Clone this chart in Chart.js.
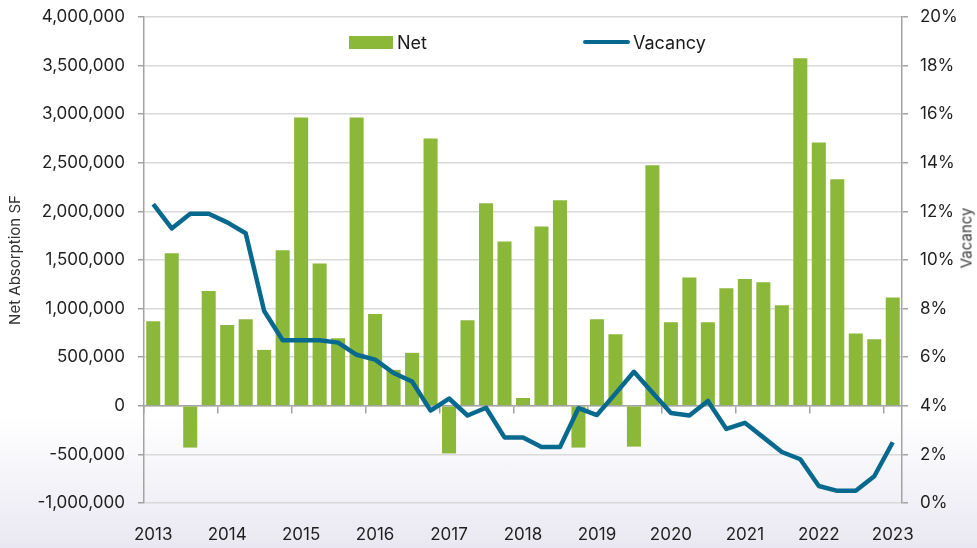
<!DOCTYPE html>
<html>

<head>
    <title>Net Absorption and Vacancy</title>
    <script src="https://cdn.jsdelivr.net/npm/chart.js"></script>
    <style>
        html, body {
            margin: 0;
            padding: 0;
        }

        body {
            width: 977px;
            height: 548px;
            overflow: hidden;
            font-family: Inter, "Noto Sans", sans-serif;
            background: linear-gradient(to bottom, #ffffff 0px, #ffffff 415px, #e9e8f2 548px);
        }

        .chart-container {
            position: relative;
            width: 977px;
            height: 548px;
        }

        /* legend sits inside the plot area, like the original */
        .legend {
            position: absolute;
            top: 30px;
            font-size: 18px;
            color: #1a1a1a;
            display: flex;
            align-items: center;
            height: 24px;
        }

        .legend .box {
            display: inline-block;
            width: 44px;
            height: 13px;
            background: #8cb83a;
            margin-right: 4px;
        }

        .legend .line {
            display: inline-block;
            width: 47px;
            height: 4px;
            border-radius: 2px;
            background: #08698f;
            margin-right: 3px;
        }

        /* right axis title reads bottom-to-top */
        #rightTitle {
            position: absolute;
            left: 966px;
            top: 238px;
            transform: translate(-50%, -50%) rotate(-90deg);
            font-size: 15px;
            color: #3a3a3a;
            white-space: nowrap;
        }
    </style>
</head>

<body>
    <div class="chart-container">
        <canvas id="absorptionChart"></canvas>
        <div class="legend" style="left: 349px;"><span class="box"></span>Net</div>
        <div class="legend" style="left: 583px;"><span class="line"></span>Vacancy</div>
        <div id="rightTitle">Vacancy</div>
    </div>

    <script>
        // quarters, 2013 Q1 .. 2023 Q1
        const quarters = [
            "2013 Q1", "2013 Q2", "2013 Q3", "2013 Q4",
            "2014 Q1", "2014 Q2", "2014 Q3", "2014 Q4",
            "2015 Q1", "2015 Q2", "2015 Q3", "2015 Q4",
            "2016 Q1", "2016 Q2", "2016 Q3", "2016 Q4",
            "2017 Q1", "2017 Q2", "2017 Q3", "2017 Q4",
            "2018 Q1", "2018 Q2", "2018 Q3", "2018 Q4",
            "2019 Q1", "2019 Q2", "2019 Q3", "2019 Q4",
            "2020 Q1", "2020 Q2", "2020 Q3", "2020 Q4",
            "2021 Q1", "2021 Q2", "2021 Q3", "2021 Q4",
            "2022 Q1", "2022 Q2", "2022 Q3", "2022 Q4",
            "2023 Q1"
        ];

        // net absorption, SF
        const netAbsorption = [
            870000, 1570000, -430000, 1180000,
            830000, 890000, 575000, 1600000,
            2965000, 1465000, 695000, 2965000,
            945000, 370000, 545000, 2750000,
            -490000, 880000, 2085000, 1690000,
            80000, 1845000, 2115000, -430000,
            890000, 735000, -420000, 2475000,
            860000, 1320000, 860000, 1210000,
            1305000, 1270000, 1035000, 3575000,
            2710000, 2330000, 745000, 685000,
            1115000
        ];

        // vacancy rate, %
        const vacancy = [
            12.3, 11.3, 11.9, 11.9,
            11.55, 11.1, 7.9, 6.7,
            6.7, 6.7, 6.6, 6.1,
            5.9, 5.35, 5.0, 3.8,
            4.3, 3.6, 3.92, 2.7,
            2.7, 2.3, 2.3, 3.9,
            3.62, 4.5, 5.4, 4.55,
            3.7, 3.6, 4.2, 3.05,
            3.3, 2.7, 2.1, 1.8,
            0.7, 0.5, 0.5, 1.1,
            2.5
        ];

        const leftTicks = { min: -1000000, max: 4000000, step: 500000 };
        const rightTicks = { min: 0, max: 20, step: 2 };

        const axisGrey = "#a3a3a3";
        const gridGrey = "#d9d9d9";
        const tickFont = { family: "Inter", size: 17 };
        const textColor = "#1f1f1f";

        // year label only on the first quarter
        function yearLabel(index) {
            return index % 4 === 0 ? quarters[index].slice(0, 4) : "";
        }

        // fixed axis sizes so the plot lands where the original's does
        function fixWidth(w) {
            return (scale) => {
                scale.width = w;
                scale.paddingTop = 0;
                scale.paddingBottom = 0;
            };
        }

        const ctx = document.getElementById("absorptionChart").getContext("2d");

        new Chart(ctx, {
            type: "bar",
            data: {
                labels: quarters,
                datasets: [
                    {
                        type: "line",
                        label: "Vacancy",
                        data: vacancy,
                        yAxisID: "yR",
                        xAxisID: "x",
                        borderColor: "#08698f",
                        borderWidth: 4.5,
                        borderJoinStyle: "round",
                        pointRadius: 0,
                        tension: 0,
                        fill: false,
                        order: 0
                    },
                    {
                        label: "Net",
                        data: netAbsorption,
                        yAxisID: "y",
                        xAxisID: "x",
                        backgroundColor: "#8cb83a",
                        barPercentage: 0.76,
                        categoryPercentage: 1.0,
                        order: 1
                    }
                ]
            },
            options: {
                responsive: true,
                maintainAspectRatio: false,
                animation: false,
                layout: { padding: { top: 17 } },
                plugins: {
                    legend: { display: false },
                    tooltip: { enabled: false }
                },
                scales: {
                    // axis line through zero with year tick marks
                    x: {
                        type: "category",
                        position: { y: 0 },
                        offset: true,
                        border: { color: axisGrey, width: 1.5 },
                        grid: {
                            offset: true,
                            drawOnChartArea: false,
                            tickLength: 7,
                            lineWidth: 1.5,
                            tickColor: (c) => (c.index % 4 === 0 ? axisGrey : "rgba(0,0,0,0)"),
                            color: (c) => (c.index % 4 === 0 ? axisGrey : "rgba(0,0,0,0)")
                        },
                        ticks: { display: false, autoSkip: false }
                    },
                    // year labels along the bottom
                    x2: {
                        type: "category",
                        axis: "x",
                        position: "bottom",
                        offset: true,
                        border: { display: false },
                        grid: { display: false, offset: true },
                        ticks: {
                            autoSkip: false,
                            maxRotation: 0,
                            padding: 14,
                            font: tickFont,
                            color: textColor,
                            callback: (value, index) => yearLabel(index)
                        },
                        afterFit: (scale) => { scale.height = 45; }
                    },
                    y: {
                        position: "left",
                        min: leftTicks.min,
                        max: leftTicks.max,
                        border: { color: axisGrey, width: 1.5 },
                        grid: {
                            color: gridGrey,
                            lineWidth: 1.5,
                            tickLength: 6,
                            tickColor: axisGrey
                        },
                        ticks: {
                            stepSize: leftTicks.step,
                            padding: 13,
                            font: tickFont,
                            color: textColor,
                            callback: (v) => v.toLocaleString("en-US")
                        },
                        title: {
                            display: true,
                            text: "Net Absorption SF",
                            font: { family: "Inter", size: 15 },
                            color: "#333333",
                            padding: { top: 6, bottom: 0 }
                        },
                        afterFit: fixWidth(144)
                    },
                    yR: {
                        position: "right",
                        min: rightTicks.min,
                        max: rightTicks.max,
                        border: { color: axisGrey, width: 1.5 },
                        grid: {
                            drawOnChartArea: false,
                            tickLength: 6,
                            lineWidth: 1.5,
                            tickColor: axisGrey
                        },
                        ticks: {
                            stepSize: rightTicks.step,
                            padding: 12,
                            font: tickFont,
                            color: textColor,
                            callback: (v) => v + "%"
                        },
                        afterFit: fixWidth(75)
                    }
                }
            }
        });
    </script>
</body>

</html>
